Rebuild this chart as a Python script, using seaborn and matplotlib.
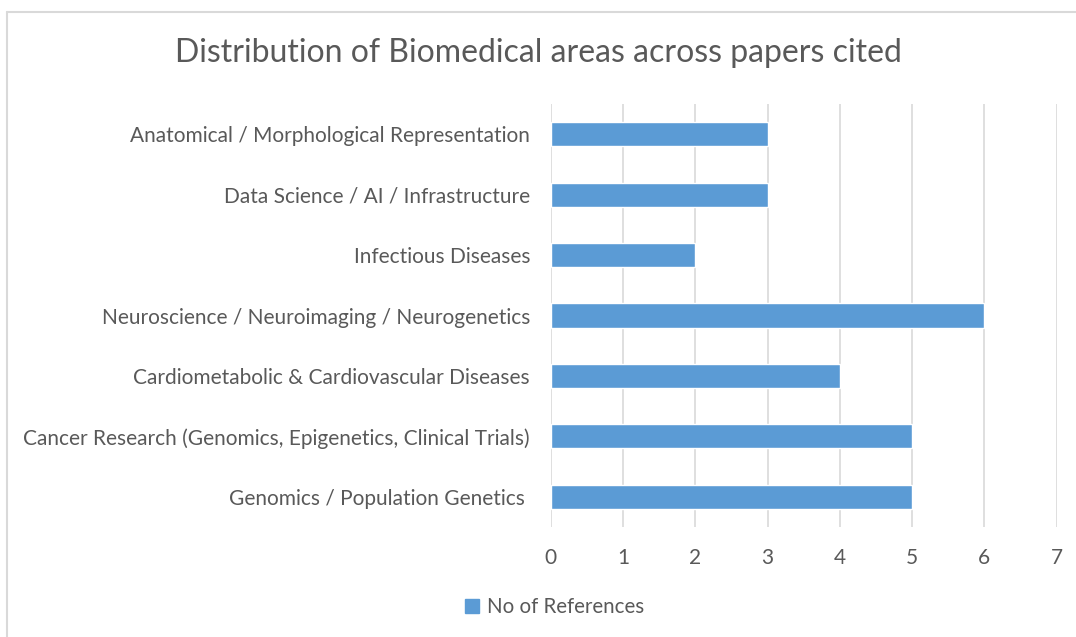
import matplotlib
matplotlib.use("Agg")
import matplotlib.pyplot as plt
import seaborn as sns
import pandas as pd
from matplotlib.lines import Line2D

sns.set_style("white")
plt.rcParams["font.family"] = ["Lato", "DejaVu Sans"]

categories = [
    "Anatomical / Morphological Representation",
    "Data Science / AI / Infrastructure",
    "Infectious Diseases",
    "Neuroscience / Neuroimaging / Neurogenetics",
    "Cardiometabolic & Cardiovascular Diseases",
    "Cancer Research (Genomics, Epigenetics, Clinical Trials)",
    "Genomics / Population Genetics ",
]
references = [3, 3, 2, 6, 4, 5, 5]
x_ticks = [0, 1, 2, 3, 4, 5, 6, 7]

bar_color = "#5B9BD5"
text_color = "#595959"
grid_color = "#D9D9D9"

data = pd.DataFrame({"area": categories, "refs": references})

fig = plt.figure(figsize=(10.76, 6.37), dpi=100)
ax = fig.add_axes([0.512, 0.1727, 0.470, 0.664])

sns.barplot(data=data, x="refs", y="area", orient="h", color=bar_color,
            width=0.4, saturation=1, ax=ax)

ax.set_xlim(0, 7)
ax.set_xticks(x_ticks)
ax.set_xlabel("")
ax.set_ylabel("")
ax.grid(axis="x", color=grid_color, linewidth=1.2)
ax.set_axisbelow(True)
for s in ax.spines.values():
    s.set_visible(False)
ax.tick_params(axis="y", length=0, pad=15, labelsize=15, labelcolor=text_color)
ax.tick_params(axis="x", length=0, pad=15, labelsize=15, labelcolor=text_color)

fig.text(0.5, 1 - 53 / 637, "Distribution of Biomedical areas across papers cited",
         ha="center", va="center", fontsize=23, color=text_color)

handle = Line2D([], [], marker="s", linestyle="none", markersize=10,
                markerfacecolor=bar_color, markeredgecolor=bar_color)
fig.legend([handle], ["No of References"], loc="center",
           bbox_to_anchor=(554 / 1076, 1 - 607 / 637), frameon=False,
           fontsize=14.8, labelcolor=text_color, handlelength=0.8,
           handletextpad=0.3)

# chart border (top and left edges visible)
fig.add_artist(Line2D([7 / 1076, 7 / 1076], [0, 1 - 12 / 637],
                      color=grid_color, linewidth=1.5, transform=fig.transFigure))
fig.add_artist(Line2D([7 / 1076, 1], [1 - 12 / 637, 1 - 12 / 637],
                      color=grid_color, linewidth=1.5, transform=fig.transFigure))

fig.savefig("out.png", dpi=100, facecolor="white")
